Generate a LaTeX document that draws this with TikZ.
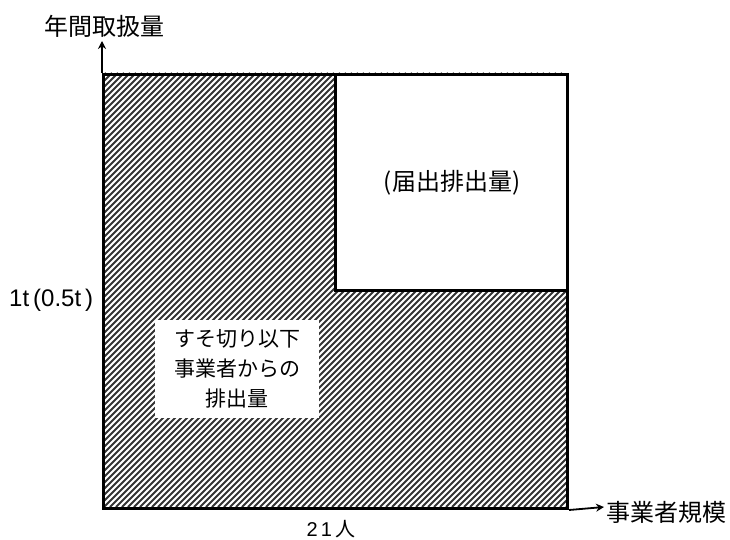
\documentclass[tikz,border=0pt]{standalone}
\usepackage{fontspec}
\usetikzlibrary{arrows.meta}
\setmainfont{Liberation Sans}
\newfontfamily\jp{Noto Sans CJK JP}
\begin{document}
\begin{tikzpicture}[x=1pt,y=-1pt,
  hatchline/.style={line width=1.8pt,color=black!80},
  frameline/.style={line width=3pt},
  axisarrow/.style={line width=1.8pt,-{Stealth[length=8pt,width=8pt]}},
  axislabel/.style={font=\jp\fontsize{24}{28}\selectfont,inner sep=0pt},
  boxtext/.style={font=\jp\fontsize{21}{30}\selectfont,align=center,fill=white,inner sep=0pt,minimum width=164pt,minimum height=98pt}]
\useasboundingbox (0,0) rectangle (730,540);
% hatching
\begin{scope}
\clip (102,73) rectangle (566,507);
\foreach \k in {-340,-334,...,570} {
  \draw[hatchline] (\k,507) -- (\k+434,73);
}
\end{scope}
% nodes
\node[draw,frameline,fill=white,minimum width=232pt,minimum height=216pt,anchor=north west,inner sep=0pt] (inner) at (334,73) {};
\node[boxtext,anchor=north west] (label) at (155,320) {すそ切り以下\\事業者からの\\排出量};
\node[frameline,draw,minimum width=464pt,minimum height=434pt,anchor=north west,inner sep=0pt] (frame) at (102,73) {};
\node[axislabel] (yl) at (104,26) {年間取扱量};
\node[axislabel,anchor=west] (xl) at (606,512) {事業者規模};
\node[axislabel] (rep) at (452,183) {(届出排出量)};
\node[font=\fontsize{24}{28}\selectfont,anchor=west,inner sep=0pt] (tl) at (9,300) {1t\,(0.5t\,)};
\node[font=\fontsize{20}{22}\selectfont,inner sep=0pt,anchor=south] (nl) at (331,538) {2\,1\,{\jp 人}};
% axes
\coordinate (ytip) at (102,41);
\coordinate (xtip) at (604,507);
\draw[axisarrow] (frame.north west) -- (ytip);
\draw[axisarrow] (frame.south east) -- (xtip);
\end{tikzpicture}
\end{document}
